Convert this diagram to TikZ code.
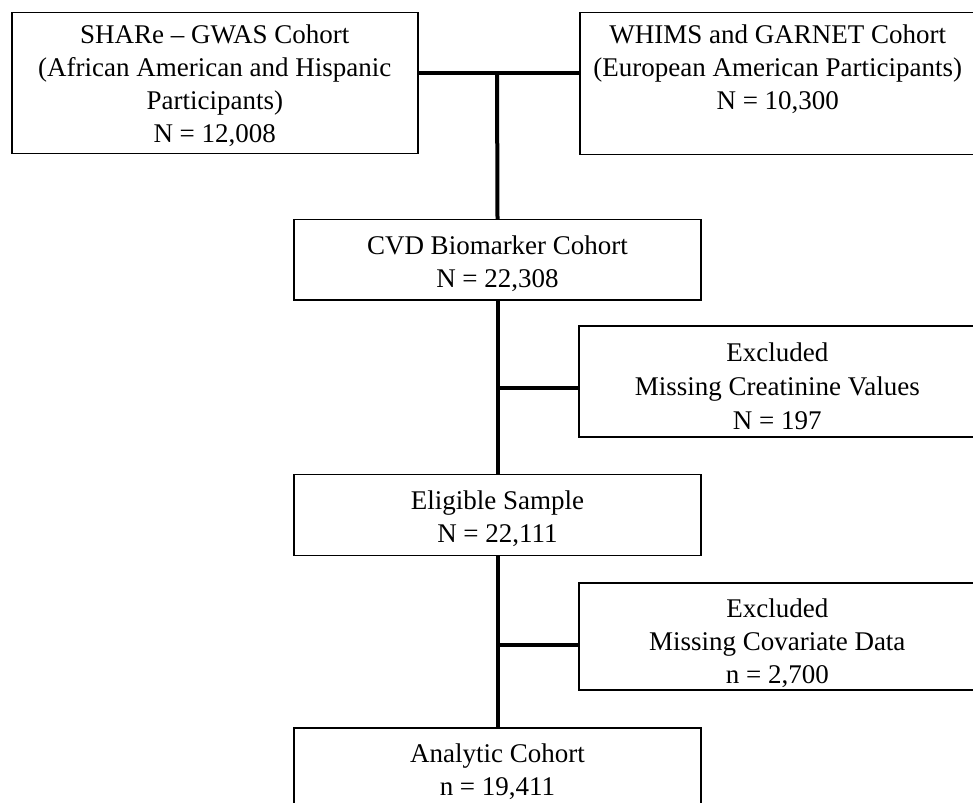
\documentclass[tikz,border=0pt]{standalone}
\usepackage{fontspec}
\setmainfont{Liberation Serif}
\usetikzlibrary{positioning}

\begin{document}
\begin{tikzpicture}[x=1pt, y=-1pt,
		box/.style={draw, line width=1.5pt, rectangle, align=flush center, inner sep=0pt, text height=35pt, font=\fontsize{27}{33}\selectfont},
		excl/.style={box, font=\fontsize{27}{34}\selectfont},
		link/.style={line width=4pt}]
		\useasboundingbox (0,0) rectangle (973,802);
		\clip (0,0) rectangle (973,802);

		% Cohorts
		\begin{scope}
			\node (share) at (11,12) [box, anchor=north west, text width=406pt, text height=31pt, text depth=110pt] {SHARe -- GWAS Cohort\\(African American and Hispanic\\Participants)\\N = 12,008};
			\node (whims) at (579,12) [box, anchor=north west, text width=396pt, text height=31pt, text depth=111pt] {WHIMS and GARNET Cohort\\(European American Participants)\\N = 10,300};
		\end{scope}

		% Main column
		\begin{scope}
			\node (cvd) at (497.5,219) [box, anchor=north, text width=407pt, text depth=45pt] {CVD Biomarker Cohort\\N = 22,308};
			\node (elig) [box, below = 173pt of cvd, text width=407pt, text depth=46pt] {Eligible Sample\\N = 22,111};
			\node (anal) [box, below = 171pt of elig, text width=407pt, text depth=55pt] {Analytic Cohort\\n = 19,411};
		\end{scope}

		% Exclusions
		\begin{scope}
			\node (excl1) at (578,325) [excl, anchor=north west, text width=397pt, text height=36pt, text depth=75pt] {Excluded\\Missing Creatinine Values\\N = 197};
			\node (excl2) at (578,582) [box, anchor=north west, text width=397pt, text depth=72pt] {Excluded\\Missing Covariate Data\\n = 2,700};
		\end{scope}

		% Connectors
		\coordinate (join) at (497,73);
		\coordinate (cut1) at (497,388);
		\coordinate (cut2) at (497,645);
		\draw[link] (share.east |- join) -- (whims.west |- join);
		\draw[link] (join) -- (cvd.north);
		\draw[link] (cvd.south) -- (elig.north);
		\draw[link] (elig.south) -- (anal.north);
		\draw[link] (cut1) -- (excl1.west |- cut1);
		\draw[link] (cut2) -- (excl2.west |- cut2);
	\end{tikzpicture}
\end{document}
